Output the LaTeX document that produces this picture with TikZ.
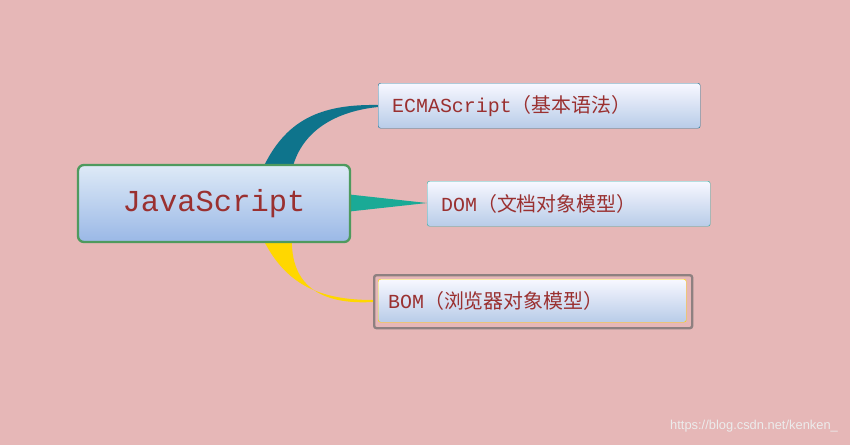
\documentclass[tikz,border=0pt]{standalone}
\usepackage{fontspec}
\setmainfont{Liberation Serif}
\newfontfamily\cjk{Noto Sans CJK SC}
\newfontfamily\mono{Liberation Mono}
\newfontfamily\wm{Liberation Sans}
\definecolor{bg}{HTML}{E6B7B7}
\definecolor{txt}{HTML}{9A3030}
\definecolor{cE}{RGB}{14,116,140}
\definecolor{cD}{RGB}{26,170,150}
\definecolor{cB}{RGB}{255,215,0}
\definecolor{leafbot}{RGB}{184,204,232}
\definecolor{ctop}{RGB}{222,234,247}
\definecolor{cbot}{RGB}{154,184,230}
\definecolor{cgreen}{RGB}{78,154,94}
\definecolor{bE}{RGB}{40,120,150}
\definecolor{bD}{RGB}{60,176,168}
\definecolor{bB}{RGB}{142,128,128}
\tikzset{
  leaf/.style={draw, rounded corners=2pt, top color=blue!3!white, bottom color=leafbot, anchor=north west, inner ysep=0pt, inner xsep=0.42cm, font=\mono\fontsize{17}{20}\selectfont, text=txt, align=left},
}
\begin{document}
\begin{tikzpicture}[x=0.03cm,y=-0.03cm]
\fill[bg] (0,0) rectangle (850,445);
\useasboundingbox (0,0) rectangle (850,445);
\coordinate (e) at (378,105);
\coordinate (d) at (427,203);
\coordinate (b) at (373,300);
\fill[cE] (262,170) .. controls (285,120) and (320,104) .. (e) -- (378,107) .. controls (330,112) and (300,135) .. (292,170) -- cycle;
\fill[cD] (345,194) -- (d) -- (345,212) -- cycle;
\fill[cB] (262,237) .. controls (285,285) and (320,300) .. (b) -- (373,302) .. controls (320,305) and (290,285) .. (292,237) -- cycle;
\node[draw=cgreen, line width=2pt, rounded corners=5pt, top color=ctop, bottom color=cbot, minimum width=272*0.03cm, minimum height=77*0.03cm, font=\mono\fontsize{26}{30}\selectfont, text=txt] (js) at (214,203.5) {JavaScript};
\node[leaf, draw=bE, minimum height=45*0.03cm, text width=322*0.03cm-0.84cm] (ecma) at (378,83) {ECMAScript{\cjk （基本语法）}};
\node[leaf, draw=bD, minimum height=45*0.03cm, text width=283*0.03cm-0.84cm] (dom) at (427,181) {DOM{\cjk （文档对象模型）}};
\node[draw=bB, line width=2pt, rounded corners=2pt, minimum width=318*0.03cm, minimum height=53*0.03cm, anchor=north west] (bomo) at (373,274) {};
\node[leaf, draw=cB, minimum height=43*0.03cm, inner xsep=0.3cm, text width=308*0.03cm-0.6cm] (bom) at (378,279) {BOM{\cjk （浏览器对象模型）}};
\node[font=\wm\fontsize{11}{12}\selectfont, text=white!85!gray, anchor=east] (wm) at (842,426) {https://blog.csdn.net/kenken\_};
\end{tikzpicture}
\end{document}
